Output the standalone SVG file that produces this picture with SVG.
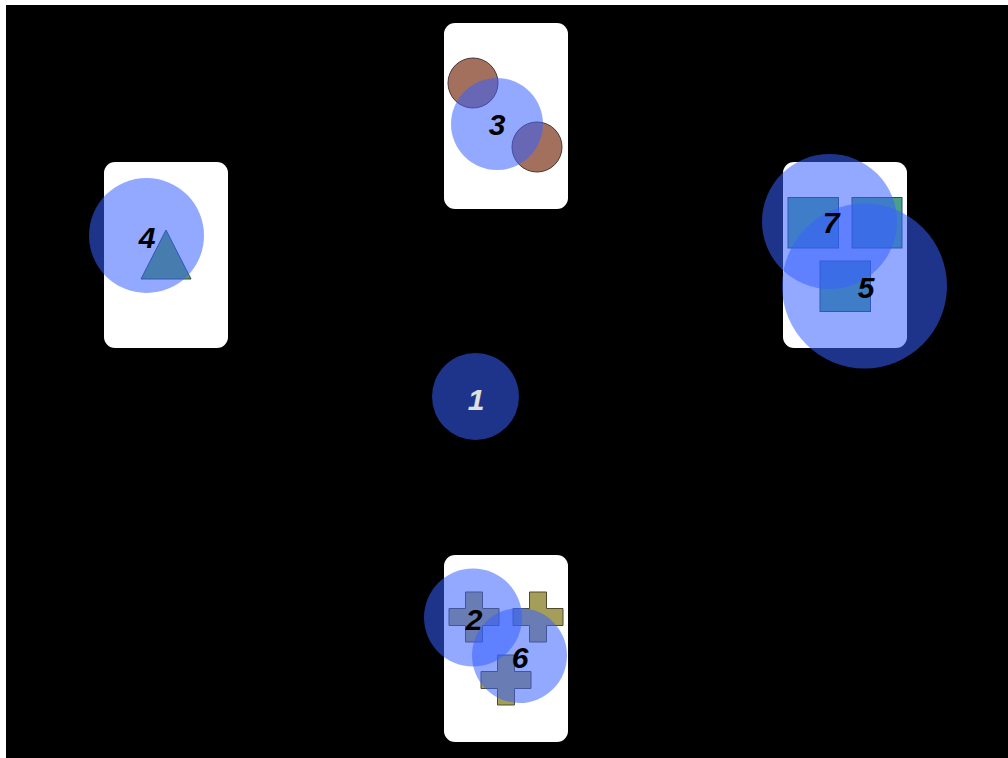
<svg xmlns="http://www.w3.org/2000/svg" width="1008" height="758" viewBox="0 0 1008 758">
<style>
.card{fill:#ffffff}
.blob{fill:#3560ff;fill-opacity:0.54}
.lbl{font-family:"Liberation Sans",Arial,sans-serif;font-weight:bold;font-style:italic;font-size:30px;text-anchor:middle;fill:#000000}
.brown{fill:#a3705e;stroke:#4a3434;stroke-width:1}
.olive{fill:#a59e5a;stroke:#4f4a2a;stroke-width:1}
.sq{fill:#4aa08a;stroke:#2a4a66;stroke-width:1}
.tri{fill:#5a9f50;stroke:#2a4a66;stroke-width:1}
</style>
<defs>
<path id="cross" d="M-8.5,-25 H8.5 V-8.5 H25 V8.5 H8.5 V25 H-8.5 V8.5 H-25 V-8.5 H-8.5 Z"/>
</defs>
<rect x="0" y="0" width="1008" height="758" fill="#ffffff"/>
<rect x="6" y="5" width="1002" height="753" fill="#000000"/>

<g id="node-1">
<circle class="blob" cx="475.5" cy="396.5" r="43.5"/>
<text class="lbl" x="476" y="410" style="fill:#e0e0e0">1</text>
</g>

<g id="node-3">
<rect class="card" x="444" y="23" width="124" height="186" rx="11"/>
<circle class="brown" cx="473" cy="83" r="25"/>
<circle class="brown" cx="537" cy="147" r="25"/>
<circle class="blob" cx="497" cy="124" r="46"/>
<text class="lbl" x="497" y="135">3</text>
</g>

<g id="node-4">
<rect class="card" x="104" y="162" width="124" height="186" rx="11"/>
<polygon class="tri" points="166,230 191,279 141,279"/>
<circle class="blob" cx="146.5" cy="235.5" r="57.5"/>
<text class="lbl" x="147" y="248">4</text>
</g>

<g id="node-7-5">
<rect class="card" x="783" y="162" width="124" height="186" rx="11"/>
<rect class="sq" x="788" y="197.5" width="50.5" height="50.5"/>
<rect class="sq" x="852" y="197.5" width="50" height="50.5"/>
<rect class="sq" x="820" y="261" width="50.5" height="50.5"/>
<g id="node-7">
<circle class="blob" cx="829.5" cy="221.5" r="67.5"/>
</g>
<g id="node-5">
<circle class="blob" cx="864.5" cy="286" r="82.5"/>
</g>
<text class="lbl" x="831" y="233">7</text>
<text class="lbl" x="866" y="298">5</text>
</g>

<g id="node-2-6">
<rect class="card" x="444" y="555" width="124" height="187" rx="11"/>
<use href="#cross" class="olive" x="474" y="617"/>
<use href="#cross" class="olive" x="538" y="617"/>
<use href="#cross" class="olive" x="506" y="680"/>
<g id="node-2">
<circle class="blob" cx="473" cy="617.5" r="49"/>
</g>
<g id="node-6">
<circle class="blob" cx="519.5" cy="655.5" r="47.5"/>
</g>
<text class="lbl" x="474" y="630">2</text>
<text class="lbl" x="520" y="668">6</text>
</g>
</svg>
